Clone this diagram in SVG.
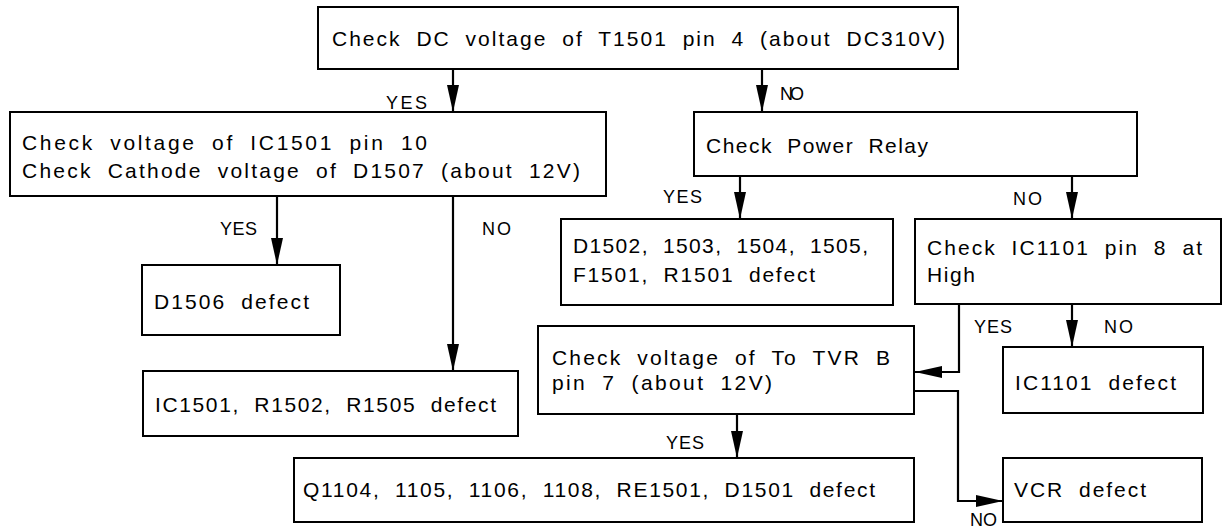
<svg xmlns="http://www.w3.org/2000/svg" width="1224" height="528" viewBox="0 0 1224 528">
<defs>
<style>
.box{fill:#fff;stroke:#000;stroke-width:2}
.t{font-family:"Liberation Sans",Arial,sans-serif;font-size:21px;word-spacing:7px;fill:#000}
.l{font-family:"Liberation Sans",Arial,sans-serif;font-size:18px;fill:#000}
.c{fill:none;stroke:#000;stroke-width:2.2}
</style>
<marker id="ah" viewBox="0 0 27 12" refX="27" refY="6" markerWidth="27" markerHeight="12" markerUnits="userSpaceOnUse" orient="auto">
<path d="M0,0 L27,6 L0,12 z" fill="#000"/>
</marker>
</defs>
<rect width="1224" height="528" fill="#fff"/>
<g id="connectors">
<line class="c" x1="453" y1="69" x2="453" y2="112" marker-end="url(#ah)"/>
<line class="c" x1="762" y1="69" x2="762" y2="112" marker-end="url(#ah)"/>
<line class="c" x1="277" y1="196" x2="277" y2="265" marker-end="url(#ah)"/>
<line class="c" x1="453" y1="196" x2="453" y2="371" marker-end="url(#ah)"/>
<line class="c" x1="740" y1="175" x2="740" y2="219" marker-end="url(#ah)"/>
<line class="c" x1="1072" y1="176" x2="1072" y2="219" marker-end="url(#ah)"/>
<polyline class="c" points="959,304 959,372 915,372" marker-end="url(#ah)"/>
<line class="c" x1="1072" y1="304" x2="1072" y2="347" marker-end="url(#ah)"/>
<line class="c" x1="737" y1="414" x2="737" y2="458" marker-end="url(#ah)"/>
<polyline class="c" points="914,391 958,391 958,501 1003,501" marker-end="url(#ah)"/>
<text class="l" x="386" y="109" textLength="41">YES</text>
<text class="l" x="780" y="100" textLength="24">NO</text>
<text class="l" x="220" y="235" textLength="37">YES</text>
<text class="l" x="482" y="235" textLength="29">NO</text>
<text class="l" x="663" y="203" textLength="39">YES</text>
<text class="l" x="1013" y="205" textLength="29">NO</text>
<text class="l" x="974" y="333" textLength="38">YES</text>
<text class="l" x="1104" y="333" textLength="29">NO</text>
<text class="l" x="666" y="449" textLength="38">YES</text>
<text class="l" x="970" y="526" textLength="27">NO</text>
</g>
<g id="n_top">
<rect class="box" x="318" y="7" width="640" height="62"/>
<text class="t" x="332" y="46" textLength="613">Check DC voltage of T1501 pin 4 (about DC310V)</text>
</g>
<g id="n_left">
<rect class="box" x="10" y="112" width="596" height="84"/>
<text class="t" x="22" y="150" textLength="405">Check voltage of IC1501 pin 10</text>
<text class="t" x="22" y="178" textLength="558">Check Cathode voltage of D1507 (about 12V)</text>
</g>
<g id="n_relay">
<rect class="box" x="694" y="112" width="443" height="64"/>
<text class="t" x="706" y="153" textLength="222">Check Power Relay</text>
</g>
<g id="n_d1506">
<rect class="box" x="142" y="265" width="198" height="70"/>
<text class="t" x="154" y="309" textLength="155">D1506 defect</text>
</g>
<g id="n_d1502">
<rect class="box" x="561" y="219" width="332" height="86"/>
<text class="t" x="573" y="253" textLength="295">D1502, 1503, 1504, 1505,</text>
<text class="t" x="573" y="282" textLength="242">F1501, R1501 defect</text>
</g>
<g id="n_ic1101chk">
<rect class="box" x="915" y="219" width="306" height="85"/>
<text class="t" x="927" y="255" textLength="275">Check IC1101 pin 8 at</text>
<text class="t" x="927" y="282" textLength="48">High</text>
</g>
<g id="n_ic1501">
<rect class="box" x="143" y="371" width="375" height="65"/>
<text class="t" x="155" y="412" textLength="341">IC1501, R1502, R1505 defect</text>
</g>
<g id="n_tvr">
<rect class="box" x="538" y="326" width="376" height="88"/>
<text class="t" x="552" y="365" textLength="338">Check voltage of To TVR B</text>
<text class="t" x="552" y="390" textLength="220">pin 7 (about 12V)</text>
</g>
<g id="n_ic1101def">
<rect class="box" x="1003" y="347" width="200" height="66"/>
<text class="t" x="1015" y="390" textLength="161">IC1101 defect</text>
</g>
<g id="n_q">
<rect class="box" x="294" y="458" width="620" height="64"/>
<text class="t" x="303" y="497" textLength="572">Q1104, 1105, 1106, 1108, RE1501, D1501 defect</text>
</g>
<g id="n_vcr">
<rect class="box" x="1003" y="458" width="199" height="64"/>
<text class="t" x="1014" y="497" textLength="132">VCR defect</text>
</g>
</svg>
